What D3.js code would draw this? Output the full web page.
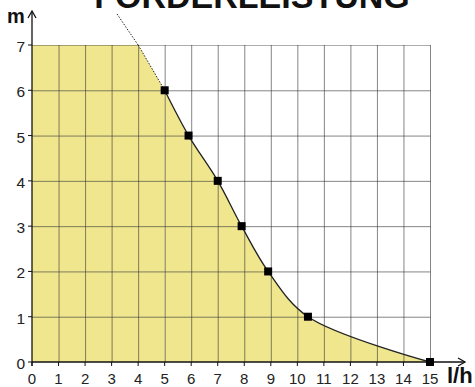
<!DOCTYPE html>
<html>
<head>
<meta charset="utf-8">
<script src="https://cdn.jsdelivr.net/npm/d3@7"></script>
<style>
  html, body { margin: 0; padding: 0; background: #fff; }
  svg { display: block; }
</style>
</head>
<body>
<svg id="chart" width="475" height="387"></svg>
<script>
// Pump delivery curve: flow (l/h) vs. head (m)
const title = "FÖRDERLEISTUNG";
const xTicks = [0, 1, 2, 3, 4, 5, 6, 7, 8, 9, 10, 11, 12, 13, 14, 15];
const yTicks = [0, 1, 2, 3, 4, 5, 6, 7];
const flow = [5, 5.9, 7, 7.9, 8.9, 10.4, 15];
const head = [6, 5, 4, 3, 2, 1, 0];
const maxHead = 7;
const capFlow = 4;  // where the head limit meets the extended curve

const svg = d3.select("#chart");
const x = d3.scaleLinear().domain([0, 15]).range([32, 430]);
const y = d3.scaleLinear().domain([0, 7]).range([362, 45]);

const pts = flow.map((f, i) => [f, head[i]]);
const smooth = d3.curveCatmullRom.alpha(0.5);
const curve = d3.line().x(d => x(d[0])).y(d => y(d[1])).curve(smooth);

// shaded operating area
const fill = "#f0e68e";
svg.append("path")
  .attr("d", d3.area().x(d => x(d[0])).y0(y(0)).y1(d => y(d[1]))
    ([[0, maxHead], [capFlow, maxHead], [flow[0], head[0]]]))
  .attr("fill", fill);
svg.append("path")
  .attr("d", d3.area().x(d => x(d[0])).y0(y(0)).y1(d => y(d[1])).curve(smooth)(pts))
  .attr("fill", fill);

// grid
const grid = svg.append("g").attr("stroke", "#333").attr("stroke-opacity", 0.6).attr("stroke-width", 1);
xTicks.slice(1).forEach(t => {
  grid.append("line").attr("x1", x(t) + 0.5).attr("x2", x(t) + 0.5)
    .attr("y1", y(0)).attr("y2", y(7));
});
yTicks.slice(1).forEach(t => {
  grid.append("line").attr("x1", x(0)).attr("x2", x(15) + 0.5)
    .attr("y1", y(t) + 0.5).attr("y2", y(t) + 0.5)
    .attr("stroke-opacity", t === 7 ? 0.4 : 0.6);
});

// dotted extension of the curve and leader from the title
svg.append("line")
  .attr("x1", x(capFlow)).attr("y1", y(maxHead))
  .attr("x2", x(flow[0])).attr("y2", y(head[0]))
  .attr("stroke", "#222").attr("stroke-width", 1).attr("stroke-dasharray", "1.5,1.5");
svg.append("line")
  .attr("x1", 117).attr("y1", 14)
  .attr("x2", x(capFlow)).attr("y2", y(maxHead))
  .attr("stroke", "#222").attr("stroke-width", 1).attr("stroke-dasharray", "1.5,1.5");

// delivery curve
svg.append("path").attr("d", curve(pts))
  .attr("fill", "none").attr("stroke", "#222").attr("stroke-width", 1.3);

// axes
const axes = svg.append("g").attr("stroke", "#111").attr("stroke-width", 1.3).attr("fill", "none");
axes.append("line").attr("x1", x(0)).attr("x2", 465).attr("y1", y(0)).attr("y2", y(0));
axes.append("path").attr("d", `M458,${y(0) - 4}L465,${y(0)}L458,${y(0) + 4}`);
axes.append("line").attr("x1", x(0)).attr("x2", x(0)).attr("y1", y(0) + 4).attr("y2", 11);
axes.append("path").attr("d", `M${x(0) - 4},18L${x(0)},11L${x(0) + 4},18`);

const tickG = svg.append("g").attr("stroke", "#111").attr("stroke-width", 1);
xTicks.forEach(t => tickG.append("line").attr("x1", x(t)).attr("x2", x(t)).attr("y1", y(0)).attr("y2", y(0) + 4));
yTicks.forEach(t => tickG.append("line").attr("x1", x(0) - 4).attr("x2", x(0)).attr("y1", y(t)).attr("y2", y(t)));

// markers
svg.append("g").selectAll("rect").data(pts).join("rect")
  .attr("x", d => x(d[0]) - 4).attr("y", d => y(d[1]) - 4)
  .attr("width", 8).attr("height", 8).attr("fill", "#000");

// tick labels
const font = "Liberation Sans, Arial, sans-serif";
svg.append("g").selectAll("text").data(xTicks).join("text")
  .attr("x", d => x(d)).attr("y", 384)
  .attr("text-anchor", "middle").attr("font-family", font).attr("font-size", 15)
  .attr("fill", "#222").text(d => d);
svg.append("g").selectAll("text").data(yTicks).join("text")
  .attr("x", 25).attr("y", d => y(d) + 7)
  .attr("text-anchor", "end").attr("font-family", font).attr("font-size", 15.5)
  .attr("fill", "#222").text(d => d);

// axis titles
svg.append("text").attr("x", 7).attr("y", 23)
  .attr("font-family", font).attr("font-weight", "bold").attr("font-size", 20)
  .attr("fill", "#111").text("m");
svg.append("text").attr("x", 447).attr("y", 383)
  .attr("font-family", font).attr("font-weight", "bold").attr("font-size", 22)
  .attr("fill", "#111").text("l/h");

// chart title, running off the top edge
svg.append("text").attr("x", 252).attr("y", 8)
  .attr("text-anchor", "middle").attr("font-family", font).attr("font-weight", "bold")
  .attr("font-size", 34).attr("fill", "#111").text(title);
</script>
</body>
</html>
